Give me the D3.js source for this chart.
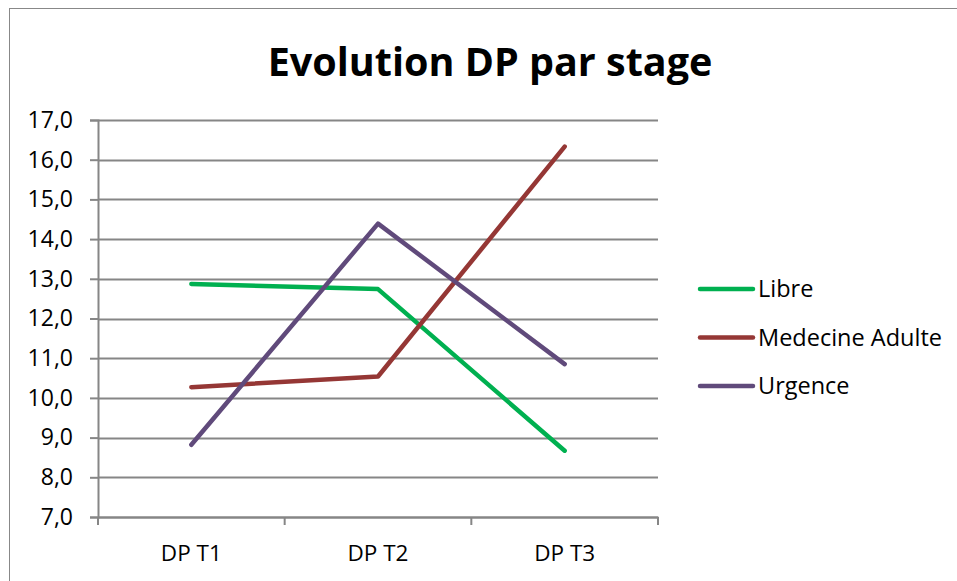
<!DOCTYPE html>
<html>
<head>
<meta charset="utf-8">
<script src="https://cdn.jsdelivr.net/npm/d3@7"></script>
<style>
  body { margin: 0; background: #fff; }
  text { font-family: "Open Sans", "Liberation Sans", sans-serif; fill: #000; }
</style>
</head>
<body>
<div id="chart"></div>
<script>
// chart data
const categories = ['DP T1', 'DP T2', 'DP T3'];
const seriesNames = ['Libre', 'Medecine Adulte', 'Urgence'];
const libre = [12.87, 12.74, 8.67];
const medecineAdulte = [10.27, 10.54, 16.33];
const urgence = [8.82, 14.39, 10.85];
const yTicks = [7, 8, 9, 10, 11, 12, 13, 14, 15, 16, 17];
const colors = ['#00b050', '#953735', '#604a7b'];

const WIDTH = 957;
const HEIGHT = 581;
const plot = { left: 98, right: 658, top: 120, bottom: 517 };

const svg = d3.select('#chart')
  .append('svg')
  .attr('width', WIDTH)
  .attr('height', HEIGHT);

// outer frame
svg.append('rect')
  .attr('x', 9.5)
  .attr('y', 8.5)
  .attr('width', WIDTH)
  .attr('height', HEIGHT)
  .attr('fill', 'none')
  .attr('stroke', '#888')
  .attr('stroke-width', 1);

svg.append('text')
  .attr('x', 490)
  .attr('y', 76)
  .attr('text-anchor', 'middle')
  .attr('font-weight', 'bold')
  .attr('font-size', 39.5)
  .text('Evolution DP par stage');

const x = d3.scaleBand()
  .domain(categories)
  .range([plot.left, plot.right]);

const y = d3.scaleLinear()
  .domain([7, 17])
  .range([plot.bottom, plot.top]);

// horizontal gridlines
svg.append('g')
  .selectAll('line')
  .data(yTicks)
  .enter()
  .append('line')
  .attr('x1', plot.left)
  .attr('x2', plot.right)
  .attr('y1', (d) => Math.round(y(d)) + 0.5)
  .attr('y2', (d) => Math.round(y(d)) + 0.5)
  .attr('stroke', '#868686')
  .attr('stroke-width', 2);

// y axis
const yAxis = svg.append('g')
  .attr('transform', `translate(${plot.left},0)`)
  .call(d3.axisLeft(y)
    .tickValues(yTicks)
    .tickSize(8)
    .tickPadding(17)
    .tickFormat((d) => d3.format('.1f')(d).replace('.', ',')));
yAxis.select('.domain').attr('stroke', '#868686').attr('stroke-width', 2);
yAxis.selectAll('.tick line').attr('stroke', '#868686').attr('stroke-width', 2);
yAxis.selectAll('.tick text').attr('font-size', 23).attr('fill', '#000');

// x axis with ticks at band boundaries
const xAxis = svg.append('g')
  .attr('transform', `translate(0,${plot.bottom})`)
  .call(d3.axisBottom(x).tickSize(0).tickPadding(28));
xAxis.select('.domain').attr('stroke', '#868686').attr('stroke-width', 2);
xAxis.selectAll('.tick text').attr('font-size', 22.5).attr('fill', '#000');
xAxis.selectAll('.boundary')
  .data(categories.concat([null]))
  .enter()
  .append('line')
  .attr('class', 'boundary')
  .attr('x1', (d, i) => plot.left + i * x.bandwidth())
  .attr('x2', (d, i) => plot.left + i * x.bandwidth())
  .attr('y1', 0)
  .attr('y2', 8)
  .attr('stroke', '#868686')
  .attr('stroke-width', 2);

// series lines
const series = [libre, medecineAdulte, urgence];
const line = d3.line()
  .x((d, i) => x(categories[i]) + x.bandwidth() / 2)
  .y((d) => y(d));

svg.append('g')
  .selectAll('path')
  .data(series)
  .enter()
  .append('path')
  .attr('d', line)
  .attr('fill', 'none')
  .attr('stroke', (d, i) => colors[i])
  .attr('stroke-width', 4.5)
  .attr('stroke-linecap', 'round')
  .attr('stroke-linejoin', 'round');

// legend
const legend = svg.append('g')
  .selectAll('g')
  .data(seriesNames)
  .enter()
  .append('g')
  .attr('transform', (d, i) => `translate(700,${289 + i * 48.5})`);

legend.append('line')
  .attr('x1', 0)
  .attr('x2', 53)
  .attr('stroke', (d, i) => colors[i])
  .attr('stroke-width', 4.5)
  .attr('stroke-linecap', 'round');

legend.append('text')
  .attr('x', 58)
  .attr('dy', '0.35em')
  .attr('font-size', 23.5)
  .text((d) => d);
</script>
</body>
</html>
